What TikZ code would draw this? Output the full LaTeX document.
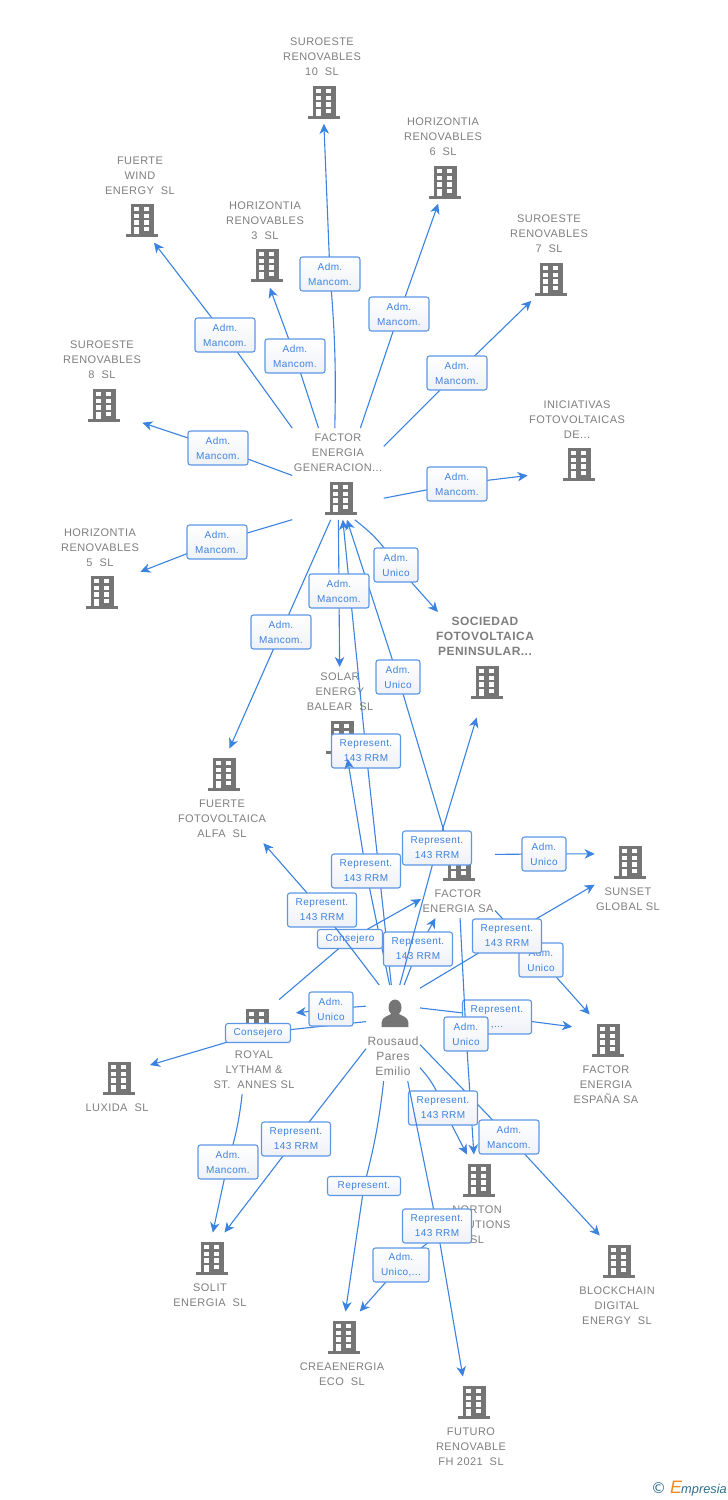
\documentclass[tikz,border=0pt]{standalone}
\usepackage{fontspec}
\setmainfont{Liberation Sans}
\newfontfamily\spacedfont[LetterSpace=4]{Liberation Sans}
\newfontfamily\markfont{DejaVu Sans}
\usetikzlibrary{arrows.meta}
\definecolor{linkblue}{HTML}{3C82DF}
\definecolor{labblue}{HTML}{5C97E6}
\definecolor{labfill}{HTML}{EEF1F6}
\definecolor{entgrey}{HTML}{7E7E7E}
\definecolor{icongrey}{HTML}{757575}
\definecolor{mainorange}{HTML}{FF5A2B}
\definecolor{markblue}{HTML}{2F6F8C}
\definecolor{markorange}{HTML}{F28A1E}
\tikzset{
    ent/.style={anchor=north,align=center,inner xsep=1pt,inner ysep=5pt,text=entgrey,
        font=\spacedfont\fontsize{11}{15}\selectfont},
    mainent/.style={ent,font=\spacedfont\bfseries\fontsize{12}{15}\selectfont},
    lab/.style={draw=labblue,line width=1.1pt,rounded corners=2.5pt,top color=white,bottom color=labfill,
        text=linkblue,align=center,inner sep=0pt,minimum width=#1pt,minimum height=34pt,
        font=\spacedfont\fontsize{10}{15}\selectfont},
    rel/.style={->,linkblue},
    bldg/.pic={
        \fill [icongrey,pic actions] (-11,-16.4) rectangle (11.7,13.7);
        \fill [icongrey,pic actions] (-16,13.7) rectangle (16,17);
        \foreach \wy in {-13,-6.3,0.3,7} {
            \fill [white] (-7.7,\wy) rectangle (-2.7,\wy+4.2);
            \fill [white] (2.3,\wy) rectangle (7.3,\wy+4.2);
        }
        \fill [white] (-7.7,11) rectangle (-2.7,13.7);
    },
    person/.pic={
        \fill [icongrey] (0,-5.5) ellipse (6.5 and 8);
        \fill [icongrey] (-13.3,14) -- (-13.3,9) .. controls (-13,4) and (-7,3) .. (-4,1)
            -- (4,1) .. controls (7,3) and (13,4) .. (13.3,9) -- (13.3,14) -- cycle;
    }
}
\begin{document}
\begin{tikzpicture}[x=1pt,y=-1pt,>={Stealth[length=10pt,width=9.5pt,inset=3pt]},line width=1.1pt]
    \useasboundingbox (0,0) rectangle (728,1500);

    \node [ent] (sur10) at (322,32) {SUROESTE\\RENOVABLES\\10~~SL\\[28pt]\mbox{}};
    \pic at (324,102) {bldg};
    \node [ent] (hor6) at (443,112) {HORIZONTIA\\RENOVABLES\\6~~SL\\[28pt]\mbox{}};
    \pic at (445,182) {bldg};
    \node [ent] (sur7) at (549,209) {SUROESTE\\RENOVABLES\\7~~SL\\[28pt]\mbox{}};
    \pic at (551,279) {bldg};
    \node [ent] (wind) at (140,151) {FUERTE\\WIND\\ENERGY~~SL\\[28pt]\mbox{}};
    \pic at (142,220) {bldg};
    \node [ent] (hor3) at (265,196) {HORIZONTIA\\RENOVABLES\\3~~SL\\[28pt]\mbox{}};
    \pic at (267,265) {bldg};
    \node [ent] (sur8) at (102,335) {SUROESTE\\RENOVABLES\\8~~SL\\[28pt]\mbox{}};
    \pic at (104,405) {bldg};
    \node [ent] (inic) at (577,395) {INICIATIVAS\\FOTOVOLTAICAS\\DE...\\[28pt]\mbox{}};
    \pic at (579,464) {bldg};
    \node [ent] (gen) at (338,428) {FACTOR\\ENERGIA\\GENERACION...\\[28pt]\mbox{}};
    \pic at (341,498) {bldg};
    \node [ent] (hor5) at (100,523) {HORIZONTIA\\RENOVABLES\\5~~SL\\[28pt]\mbox{}};
    \pic at (102,592) {bldg};
    \node [mainent] (soc) at (485,612) {SOCIEDAD\\FOTOVOLTAICA\\PENINSULAR...\\[41pt]\mbox{}};
    \pic [fill=mainorange] at (487,682) {bldg};
    \node [ent] (solar) at (340,667) {SOLAR\\ENERGY\\BALEAR~~SL\\[28pt]\mbox{}};
    \pic at (342,737) {bldg};
    \node [ent] (foto) at (222,748.5) {\mbox{}\\[38.5pt]FUERTE\\FOTOVOLTAICA\\ALFA~~SL};
    \pic at (224,774) {bldg};
    \node [ent] (fesa) at (458,838.5) {\mbox{}\\[38.5pt]FACTOR\\ENERGIA SA};
    \pic at (459,864) {bldg};
    \node [ent] (sunset) at (628,836.5) {\mbox{}\\[38.5pt]SUNSET\\GLOBAL SL};
    \pic at (630,862) {bldg};
    \node [ent] (royal) at (254,999.5) {\mbox{}\\[38.5pt]ROYAL\\LYTHAM \&\\ST.~~ANNES SL};
    \pic at (257,1025) {bldg};
    \node [ent] (luxida) at (117,1052.5) {\mbox{}\\[38.5pt]LUXIDA~~SL};
    \pic at (119,1078) {bldg};
    \node [ent,font=\spacedfont\fontsize{12}{15}\selectfont] (rous) at (393,985) {\mbox{}\\[40pt]Rousaud\\Pares\\Emilio};
    \pic at (395,1013) {person};
    \node [ent] (fesp) at (606,1014.5) {\mbox{}\\[38.5pt]FACTOR\\ENERGIA\\ESPAÑA SA};
    \pic at (608,1040) {bldg};
    \node [ent] (norton) at (477,1154.5) {\mbox{}\\[38.5pt]NORTON\\SOLUTIONS\\SL};
    \pic at (479,1180) {bldg};
    \node [ent] (solit) at (210,1232.5) {\mbox{}\\[38.5pt]SOLIT\\ENERGIA~~SL};
    \pic at (212,1258) {bldg};
    \node [ent] (block) at (617,1235.5) {\mbox{}\\[38.5pt]BLOCKCHAIN\\DIGITAL\\ENERGY~~SL};
    \pic at (619,1261) {bldg};
    \node [ent] (crea) at (342,1311.5) {\mbox{}\\[38.5pt]CREAENERGIA\\ECO~~SL};
    \pic at (344,1337) {bldg};
    \node [ent] (futuro) at (471,1376.5) {\mbox{}\\[38.5pt]FUTURO\\RENOVABLE\\FH 2021~~SL};
    \pic at (474,1402) {bldg};

    \draw [rel] (gen.94) to [bend right=3] (330,274) node [lab=60] (l1) {Adm.\\Mancom.} -- (sur10);
    \draw [rel] (gen.64) -- (399,314) node [lab=60] (l2) {Adm.\\Mancom.} -- (hor6.264);
    \draw [rel] (gen.31) -- (457,373) node [lab=60] (l3) {Adm.\\Mancom.} -- (sur7.249);
    \draw [rel] (gen.113) -- (295,356) node [lab=60] (l4) {Adm.\\Mancom.} -- (hor3.276);
    \draw [rel] (gen.135) -- (225,335) node [lab=60] (l5) {Adm.\\Mancom.} -- (wind.287);
    \draw [rel] (gen.182) -- (218,448) node [lab=60] (l6) {Adm.\\Mancom.} -- (sur8.314);
    \draw [rel] (gen.332) -- (457,484) node [lab=60] (l7) {Adm.\\Mancom.} -- (inic.215);
    \draw [rel] (gen.225) -- (217,542) node [lab=60] (l8) {Adm.\\Mancom.} -- (hor5.356);
    \draw [rel] (gen.261) -- (281,632) node [lab=60] (l9) {Adm.\\Mancom.} -- (foto.81);
    \draw [rel] (gen.290) to [bend left=10] (396,565) node [lab=44] (l11) {Adm.\\Unico} -- (soc);
    \draw [rel] (fesa) -- (398,677) node [lab=44] (l12) {Adm.\\Unico} -- (gen.281);
    \draw [rel] (rous.92) -- (366,751) node [lab=69] (l13) {Represent.\\143 RRM} -- (gen.276);
    \draw [rel] (gen) -- (339,591) node [lab=60] (l10) {Adm.\\Mancom.} -- (solar);
    \draw [rel] (rous.94) -- (366,871) node [lab=69] (l14) {Represent.\\143 RRM} -- (solar);

    \draw [rel] (rous.77) -- (418,949) node [lab=69] (l15) {Represent.\\143 RRM} -- (fesa);
    \draw [rel] (rous.82) -- (437,848) node [lab=69] (l16) {Represent.\\143 RRM} -- (soc.261);
    \draw [rel] (royal.62) -- (350,939) node [lab=65,minimum height=19pt] (l17) {Consejero} -- (fesa);
    \draw [rel] (rous.106) -- (322,910) node [lab=69] (l18) {Represent.\\143 RRM} -- (foto);
    \draw [rel] (fesa.33) -- (544,854) node [lab=44] (l19) {Adm.\\Unico} -- (sunset.146);
    \draw [rel] (fesa.319) -- (541,960) node [lab=44] (l20) {Adm.\\Unico} -- (fesp.109);
    \draw [rel] (rous.59) -- (507,936) node [lab=69] (l21) {Represent.\\143 RRM} -- (sunset.194);
    \draw [rel] (rous.43) -- (497,1017) node [lab=69] (l22) {Represent.\\,...} -- (fesp.134);
    \draw [rel] (fesa.273) -- (466,1034) node [lab=44] (l23) {Adm.\\Unico} -- (norton);

    \draw [rel] (rous.157) -- (258,1033) node [lab=65,minimum height=19pt] (l24) {Consejero} -- (luxida.31);
    \draw [rel] (rous.135) -- (331,1009) node [lab=44] (l25) {Adm.\\Unico} -- (royal.39);
    \draw [rel] (rous.210) -- (296,1139) node [lab=69] (l26) {Represent.\\143 RRM} -- (solit.70);
    \draw [rel] (royal.256) to [bend left=5] (228,1162) node [lab=60] (l27) {Adm.\\Mancom.} -- (solit.86);
    \draw [rel] (rous.259) to [bend left=4] (364,1186) node [lab=73,minimum height=19pt] (l28) {Represent.} -- (crea.85);
    \draw [rel] (rous.337) -- (509,1137) node [lab=60] (l29) {Adm.\\Mancom.} -- (block.110);
    \draw [rel] (rous.308) to [bend left=12] (443,1108) node [lab=69] (l30) {Represent.\\143 RRM} -- (norton.102);
    \draw [rel] (norton) -- (401,1265) node [lab=56] (l31) {Adm.\\Unico,...} -- (crea.66);
    \draw [rel] (rous.287) -- (437,1226) node [lab=69] (l32) {Represent.\\143 RRM} -- (futuro);

    \node (wmark) at (689,1489) {\markfont\fontsize{15}{15}\selectfont\textcolor{markblue}{©}\hspace{4pt}\itshape\rmfamily\fontsize{18}{15}\selectfont\textcolor{markorange}{E}\hspace{-1pt}\fontsize{12.8}{15}\selectfont\textcolor{markblue}{mpresia}};
\end{tikzpicture}
\end{document}
